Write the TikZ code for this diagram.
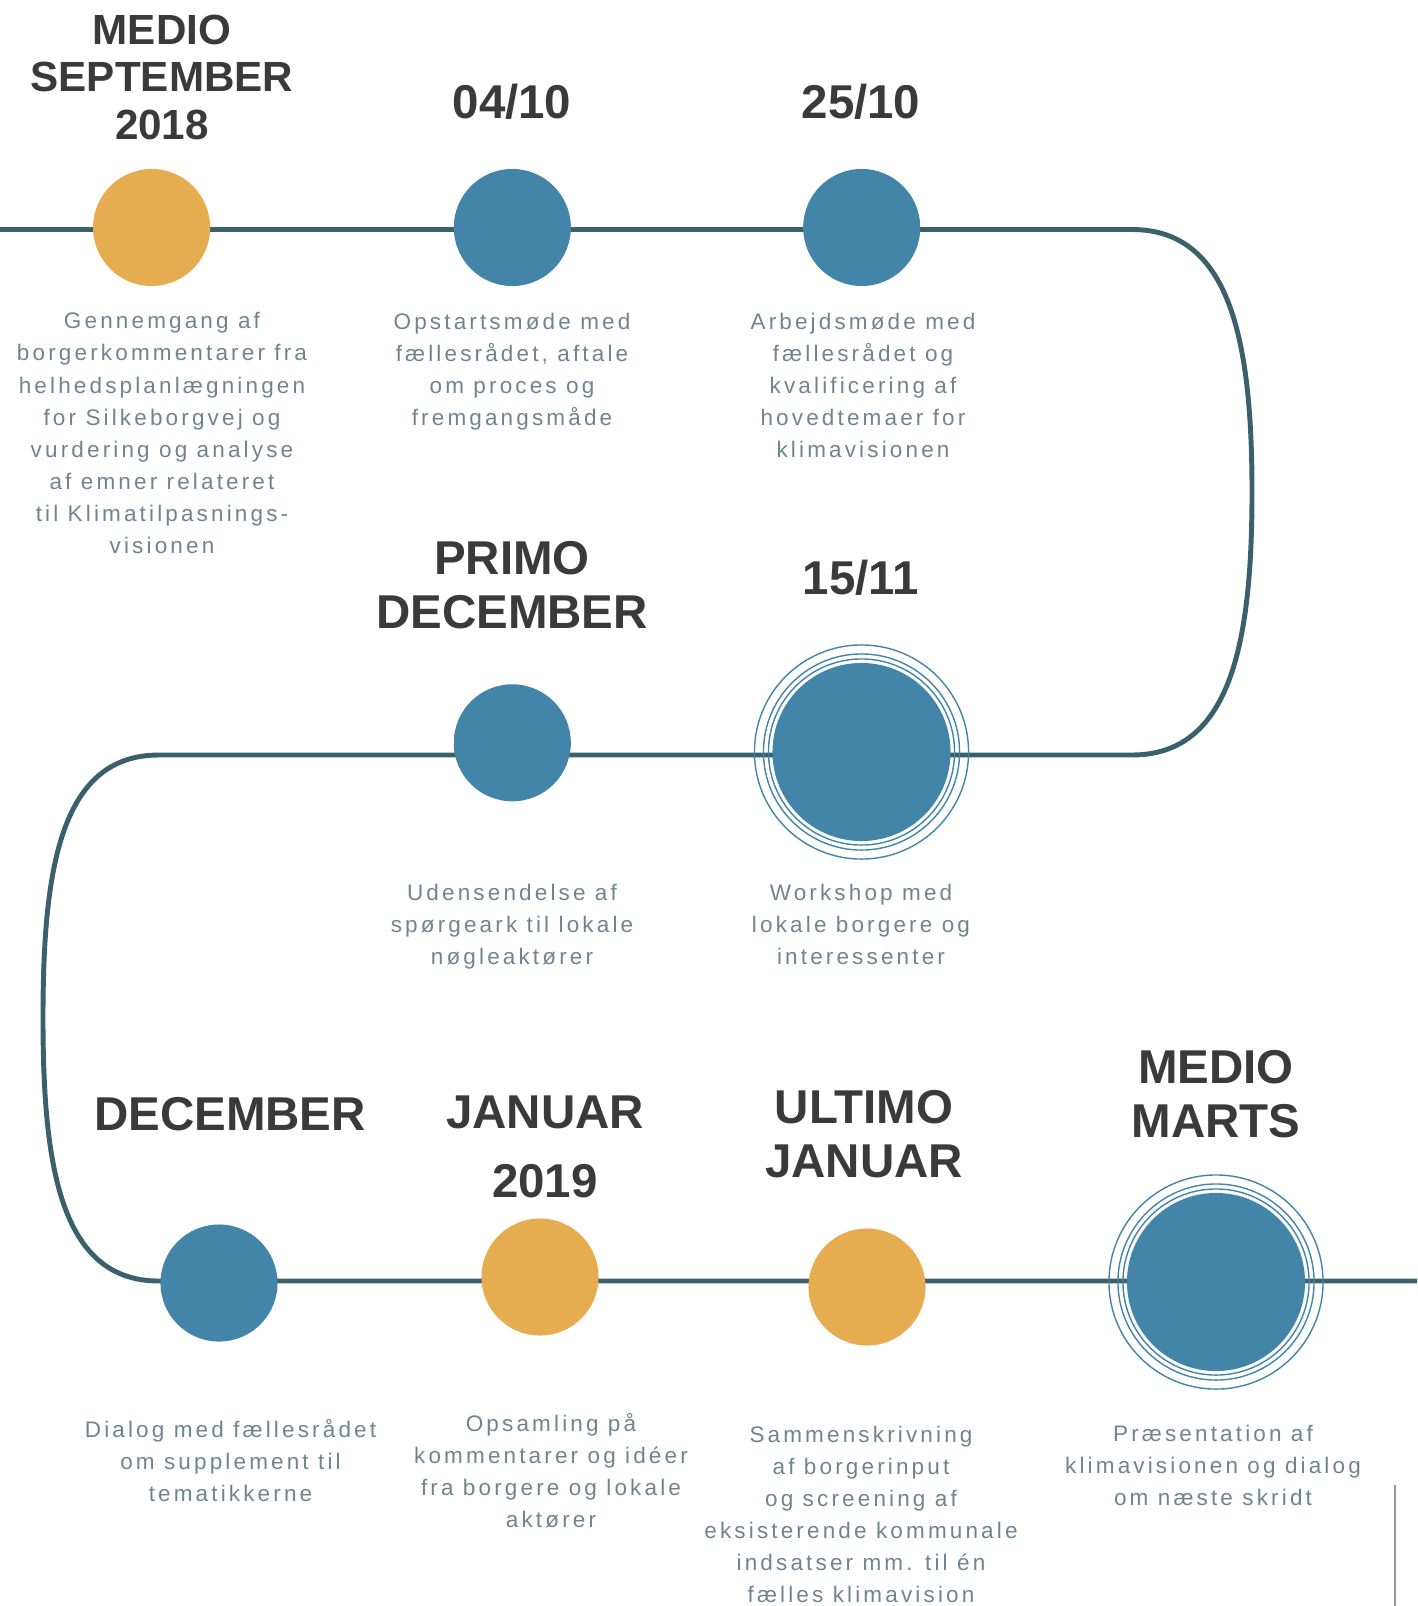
\documentclass[tikz,border=0pt]{standalone}
\usepackage{fontspec}
\setmainfont{Liberation Sans}
\newfontfamily\descfamily[LetterSpace=14]{Liberation Sans}
\usetikzlibrary{positioning}
\definecolor{trackcol}{HTML}{3B5F6B}
\definecolor{dotblue}{HTML}{4385A8}
\definecolor{dotorange}{HTML}{E6AC50}
\definecolor{titlecol}{HTML}{3A3A3A}
\definecolor{desccol}{HTML}{6E858F}
\newcommand*{\titlefont}{\fontsize{13.5}{15.1}\selectfont\bfseries}
\newcommand*{\desctext}{\fontsize{6.4}{9.1}\selectfont\descfamily}

\begin{document}
\begin{tikzpicture}[x=0.01cm,y=-0.01cm]
        \tikzset{dot/.style={shape=circle,fill=dotblue,inner sep=0pt,minimum size=1.17cm},
                 odot/.style={dot,fill=dotorange},
                 bigdot/.style={dot,minimum size=1.78cm},
                 ring/.style={draw=dotblue,line width=0.4pt},
                 track/.style={draw=trackcol,line width=1.4pt},
                 title/.style={font=\titlefont,text=titlecol,align=center,anchor=base},
                 desc/.style={font=\desctext,text=desccol,align=center,anchor=base}}

        \useasboundingbox (0,0) rectangle (1417,1606);

        % the track
        \coordinate (A) at (0,229.5);
        \coordinate (B) at (1132,229.5);
        \coordinate (C) at (1132,755);
        \coordinate (D) at (158.8,755);
        \coordinate (E) at (158.8,1281);
        \coordinate (F) at (1417,1281);
        \draw[track] (A) -- (B) .. controls (1230,229.5) and (1252,340) .. (1252,492)
                .. controls (1252,645) and (1230,755) .. (C) -- (D)
                .. controls (60,755) and (43,870) .. (43,1018)
                .. controls (43,1165) and (60,1281) .. (E) -- (F);

        % top row (text nodes sit on the baseline of their last line)
        \node[odot] (sep) at (151.6,227.5) {};
        \node[dot] (okt4) at (512.3,227.5) {};
        \node[dot] (okt25) at (861.7,227.5) {};

        \node[title,font=\fontsize{12}{13.5}\selectfont\bfseries] (sept) at (162,139) {MEDIO\\SEPTEMBER\\2018};
        \node[title] (okt4t) at (512,118) {04/10};
        \node[title] (okt25t) at (861,118) {25/10};

        \node[desc] (sepd) at (162,553) {Gennemgang af\\borgerkommentarer fra\\helhedsplanlægningen\\for Silkeborgvej og\\vurdering og analyse\\af emner relateret\\til Klimatilpasnings-\\visionen};
        \node[desc] (okt4d) at (512,425) {Opstartsmøde med\\fællesrådet, aftale\\om proces og\\fremgangsmåde};
        \node[desc] (okt25d) at (863,457) {Arbejdsmøde med\\fællesrådet og\\kvalificering af\\hovedtemaer for\\klimavisionen};

        % middle row
        \node[dot] (dec1) at (512.3,742.8) {};
        \node[bigdot] (nov15) at (861.5,752) {};
        \draw[ring] (nov15.center) circle (0.93cm) circle (0.98cm) circle (1.07cm);

        \node[title] (dec1t) at (512,628) {PRIMO\\DECEMBER};
        \node[title] (nov15t) at (861,594) {15/11};

        \node[desc] (dec1d) at (512,964.5) {Udensendelse af\\spørgeark til lokale\\nøgleaktører};
        \node[desc] (nov15d) at (861,964.5) {Workshop med\\lokale borgere og\\interessenter};

        % bottom row
        \node[dot] (dec) at (219,1283) {};
        \node[odot] (jan) at (540,1277) {};
        \node[odot] (ultjan) at (867,1287) {};
        \node[bigdot] (mar) at (1216,1282) {};
        \draw[ring] (mar.center) circle (0.93cm) circle (0.98cm) circle (1.07cm);

        \node[title] (dect) at (230,1130) {DECEMBER};
        \node[title] (jant) at (545,1197) {JANUAR\\[4.4pt]2019};
        \node[title] (ultjant) at (864,1177) {ULTIMO\\JANUAR};
        \node[title] (mart) at (1216,1137) {MEDIO\\MARTS};

        \node[desc] (decd) at (230.5,1501.5) {Dialog med fællesrådet\\om supplement til\\tematikkerne};
        \node[desc] (jand) at (551,1527) {Opsamling på\\kommentarer og idéer\\fra borgere og lokale\\aktører};
        \node[desc] (ultjand) at (861,1602.5) {Sammenskrivning\\af borgerinput\\og screening af\\eksisterende kommunale\\indsatser mm. til én\\fælles klimavision};
        \node[desc] (mard) at (1213,1505.5) {Præsentation af\\klimavisionen og dialog\\om næste skridt};

        % margin rule
        \coordinate (G) at (1395,1485);
        \coordinate (H) at (1395,1606);
        \draw[black!40,line width=0.4pt] (G) -- (H);
\end{tikzpicture}
\end{document}
